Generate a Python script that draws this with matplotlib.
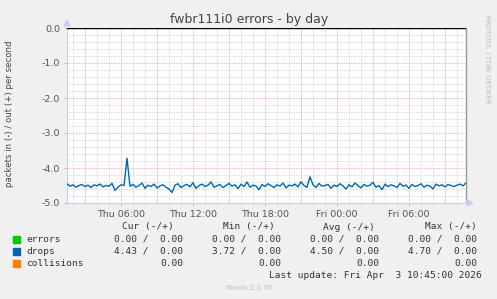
import datetime as dt
import matplotlib
matplotlib.use("Agg")
import matplotlib.pyplot as plt
import matplotlib.dates as mdates
from matplotlib.ticker import MultipleLocator

# drops (in, plotted negative), one sample per 15 min from Thu 01:30
start = dt.datetime(2026, 4, 2, 1, 30)
end = dt.datetime(2026, 4, 3, 10, 45)
step_min = 15
drops_in = [
    -4.45, -4.52, -4.48, -4.55, -4.50, -4.47, -4.53, -4.49, -4.56, -4.48,
    -4.51, -4.46, -4.54, -4.50, -4.52, -4.44, -4.64, -4.55, -4.48, -4.50,
    -3.72, -4.52, -4.47, -4.55, -4.50, -4.43, -4.58, -4.49, -4.53, -4.46,
    -4.57, -4.51, -4.48, -4.55, -4.60, -4.70, -4.49, -4.45, -4.56, -4.50,
    -4.47, -4.54, -4.42, -4.58, -4.50, -4.46, -4.53, -4.49, -4.40, -4.55,
    -4.51, -4.47, -4.56, -4.50, -4.44, -4.52, -4.48, -4.59, -4.46, -4.53,
    -4.40, -4.55, -4.49, -4.51, -4.62, -4.47, -4.53, -4.45, -4.50, -4.56,
    -4.48, -4.52, -4.43, -4.57, -4.49, -4.51, -4.46, -4.54, -4.39, -4.50,
    -4.55, -4.25, -4.48, -4.56, -4.44, -4.52, -4.50, -4.47, -4.58, -4.49,
    -4.53, -4.45, -4.51, -4.60, -4.48, -4.54, -4.43, -4.50, -4.57, -4.47,
    -4.52, -4.49, -4.41, -4.55, -4.50, -4.62, -4.46, -4.53, -4.48, -4.51,
    -4.56, -4.44, -4.52, -4.49, -4.58, -4.47, -4.53, -4.50, -4.45, -4.55,
    -4.49, -4.52, -4.60, -4.46, -4.51, -4.48, -4.54, -4.47, -4.50, -4.53,
    -4.49, -4.46, -4.51, -4.43,
]
times = [start + dt.timedelta(minutes=step_min * i) for i in range(len(drops_in))]

legend_names = ["errors", "drops", "collisions"]
legend_colors = ["#00CC00", "#0066B3", "#FF8000"]
cur = ["0.00 /  0.00", "4.43 /  0.00", "0.00"]
mins = ["0.00 /  0.00", "3.72 /  0.00", "0.00"]
avgs = ["0.00 /  0.00", "4.50 /  0.00", "0.00"]
maxs = ["0.00 /  0.00", "4.70 /  0.00", "0.00"]

W, H = 497, 299
fig = plt.figure(figsize=(W / 100, H / 100), dpi=100, facecolor="#F0F0F0")
ax = fig.add_axes([67 / W, 1 - 203 / H, 399 / W, 175 / H])
ax.set_facecolor("white")

ax.set_xlim(start, end)
ax.set_ylim(-5.0, 0.0)

ax.xaxis.set_major_locator(mdates.HourLocator(byhour=[0, 6, 12, 18]))
ax.xaxis.set_major_formatter(mdates.DateFormatter("%a %H:%M"))
ax.xaxis.set_minor_locator(mdates.HourLocator())
ax.yaxis.set_major_locator(MultipleLocator(1.0))
ax.yaxis.set_major_formatter(plt.FuncFormatter(lambda v, p: "%.1f" % v))
ax.yaxis.set_minor_locator(MultipleLocator(0.2))

# grid: grey dotted every hour / 0.2, red dotted every 3h / 1.0
ax.grid(which="minor", color="#CFCFCF", linestyle=(0, (1, 1)), linewidth=0.6)
for h in mdates.drange(dt.datetime(2026, 4, 2, 3), end, dt.timedelta(hours=3)):
    ax.axvline(h, color="#F0A0A0", linestyle=(0, (1, 1)), linewidth=0.6, zorder=1)
for v in range(-4, 0):
    ax.axhline(v, color="#F0A0A0", linestyle=(0, (1, 1)), linewidth=0.6, zorder=1)

ax.axhline(0, color="black", linewidth=1.0, zorder=3)
ax.plot(times, drops_in, color="#0066B3", linewidth=1.0, zorder=4)

ax.tick_params(which="both", length=2, width=0.6, color="#E0A0A0",
               labelsize=6.8, labelcolor="#555555", pad=3)
ax.tick_params(axis="y", which="minor", length=0)
ax.tick_params(axis="x", which="minor", length=1, color="#C8C8C8")

for s in ["left", "bottom"]:
    ax.spines[s].set_color("#C8D0F0")
    ax.spines[s].set_linewidth(0.8)
ax.spines["top"].set_visible(False)
ax.spines["right"].set_color("#999999")
ax.spines["right"].set_linewidth(1.0)

# axis arrows
fig.patches.append(plt.Polygon([[64 / W, 1 - 26 / H], [70 / W, 1 - 26 / H], [67 / W, 1 - 20 / H]],
                               transform=fig.transFigure, color="#C8D0F0", clip_on=False))
fig.patches.append(plt.Polygon([[467 / W, 1 - 200 / H], [467 / W, 1 - 206 / H], [473 / W, 1 - 203 / H]],
                               transform=fig.transFigure, color="#C8D0F0", clip_on=False))

fig.text(249 / W, 1 - 19 / H, "fwbr111i0 errors - by day", ha="center", va="center",
         fontsize=9.0, color="#444444")
fig.text(10 / W, 1 - 114 / H, "packets in (-) / out (+) per second", rotation=90,
         ha="center", va="center", fontsize=6.2, color="#444444")
fig.text(487 / W, 1 - 15 / H, "RRDTOOL / TOBI OETIKER", rotation=270,
         ha="center", va="top", fontsize=5, color="#BBBBBB")

mono = dict(family="DejaVu Sans Mono", fontsize=6.8, color="#333333", va="center")
headers = ["Cur (-/+)", "Min (-/+)", "Avg (-/+)", "Max (-/+)"]
header_x = [174, 275, 375, 477]
col_x = [183, 281, 379, 477]
for hx, label in zip(header_x, headers):
    fig.text(hx / W, 1 - 227 / H, label, ha="right", **mono)

row_y = [239, 251, 263]
for i, name in enumerate(legend_names):
    y = row_y[i]
    fig.patches.append(plt.Rectangle((13 / W, 1 - (y + 3.5) / H), 6.5 / W, 6.5 / H,
                                     transform=fig.transFigure, color=legend_colors[i]))
    fig.text(26 / W, 1 - y / H, name, ha="left", **mono)
    for cx, col in zip(col_x, [cur, mins, avgs, maxs]):
        fig.text(cx / W, 1 - y / H, col[i], ha="right", **mono)

fig.text(482 / W, 1 - 275 / H, "Last update: Fri Apr  3 10:45:00 2026", ha="right", **mono)
fig.text(249 / W, 1 - 288 / H, "Munin 2.0.76", ha="center", va="center",
         fontsize=5, color="#BBBBBB")

fig.savefig("out.png", dpi=100, facecolor=fig.get_facecolor())
